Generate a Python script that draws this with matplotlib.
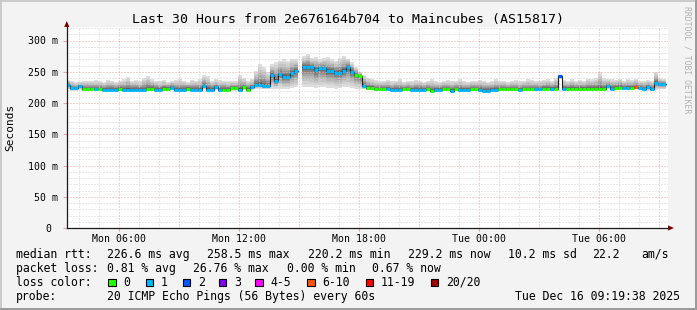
import numpy as np
import matplotlib
matplotlib.use('Agg')
import matplotlib.pyplot as plt
from matplotlib.patches import Rectangle, Polygon

# ---- data -------------------------------------------------------------
title = "Last 30 Hours from 2e676164b704 to Maincubes (AS15817)"
t_start = 3.33          # hours after Mon 00:00
step_h = 0.2            # 12 minutes per column

tick_hours = [6, 12, 18, 24, 30]
tick_labels = ["Mon 06:00", "Mon 12:00", "Mon 18:00", "Tue 00:00", "Tue 06:00"]
ytick_vals = [0, 50, 100, 150, 200, 250, 300]
ytick_labels = ["0 ", "50 m", "100 m", "150 m", "200 m", "250 m", "300 m"]

nan = float('nan')
median = [
    228.8, 223.4, 223.4, 226.6, 222.0, 222.0, 222.0, 222.0, 222.0, 221.5,
    221.5, 221.5, 221.5, 223.0, 221.5, 221.5, 221.5, 221.5, 221.5, 221.5,
    223.0, 223.0, 221.5, 221.5, 223.0, 223.0, 224.5, 221.5, 221.5, 221.5,
    223.0, 221.5, 221.5, 221.5, 226.6, 221.5, 221.5, 225.0, 221.5, 221.5,
    221.5, 223.5, 223.5, 221.5, 225.0, 221.5, 225.0, 228.8, 228.8, 227.7,
    226.6, 244.8, 235.0, 246.4, 241.6, 241.6, 247.5, 251.7, nan, 257.6,
    257.6, 257.6, 252.3, 255.5, 255.5, 251.7, 251.7, 248.5, 248.5, 251.7,
    257.6, 250.0, 244.8, 243.2, 227.7, 224.5, 224.5, 222.0, 222.0, 222.0,
    222.5, 221.3, 221.3, 221.3, 222.0, 222.0, 221.3, 221.3, 221.3, 221.3,
    222.0, 219.2, 221.3, 221.3, 222.0, 222.0, 220.0, 222.0, 221.3, 221.3,
    221.3, 222.0, 222.0, 221.3, 220.0, 220.0, 221.3, 221.3, 222.0, 222.0,
    222.0, 222.0, 222.0, 221.3, 222.0, 222.0, 222.0, 221.8, 221.8, 223.0,
    223.0, 223.0, 223.0, 242.7, 223.0, 223.0, 223.0, 223.0, 223.0, 223.0,
    223.0, 223.0, 223.0, 223.0, 223.0, 227.0, 223.0, 224.5, 224.5, 224.5,
    224.5, 224.5, 226.0, 224.5, 222.0, 225.0, 222.0, 231.5, 230.0, 230.0,
]
lost = [
    1, 1, 1, 1, 0, 0, 0, 1, 0, 1,
    1, 1, 1, 0, 1, 1, 1, 1, 1, 1,
    0, 0, 1, 1, 0, 0, 1, 1, 1, 1,
    0, 1, 1, 1, 1, 1, 1, 1, 1, 0,
    0, 0, 0, 1, 0, 0, 1, 1, 1, 1,
    1, 1, 1, 1, 1, 1, 1, 1, 0, 1,
    1, 1, 1, 1, 1, 1, 1, 1, 1, 1,
    1, 1, 0, 0, 1, 0, 0, 0, 0, 0,
    1, 1, 1, 1, 0, 0, 1, 1, 1, 1,
    0, 0, 1, 1, 0, 0, 1, 0, 1, 1,
    1, 0, 0, 1, 1, 1, 1, 1, 0, 0,
    0, 0, 0, 1, 0, 0, 0, 1, 1, 0,
    0, 1, 0, 2, 1, 0, 0, 0, 0, 0,
    0, 0, 0, 0, 0, 1, 1, 0, 0, 1,
    1, 0, 7, 1, 1, 1, 1, 1, 1, 1,
]
smoke_hi = [
    237, 235, 233, 234, 236, 235, 236, 237, 235, 234,
    237, 236, 233, 236, 238, 241, 236, 237, 235, 240,
    243, 238, 236, 235, 237, 234, 236, 237, 238, 236,
    234, 237, 236, 238, 245, 243, 236, 238, 237, 236,
    235, 236, 235, 245, 240, 236, 238, 252, 262, 258,
    250, 262, 265, 268, 270, 267, 270, 270, nan, 275,
    278, 272, 274, 270, 272, 273, 270, 268, 272, 275,
    270, 265, 258, 250, 245, 240, 238, 237, 236, 236,
    237, 235, 236, 238, 234, 236, 235, 237, 236, 234,
    236, 238, 235, 234, 236, 237, 235, 236, 238, 235,
    234, 236, 235, 237, 236, 234, 235, 238, 236, 235,
    234, 236, 237, 235, 236, 238, 237, 236, 235, 237,
    238, 236, 240, 246, 237, 236, 238, 235, 237, 236,
    239, 238, 240, 249, 240, 238, 238, 237, 239, 236,
    238, 237, 238, 236, 235, 237, 236, 250, 240, 238,
]
smoke_lo = [
    222, 220, 220, 221, 219.5, 219.5, 219.5, 219.5, 219.5, 219,
    219, 219, 219, 220, 219, 219, 219, 219, 219, 219,
    220, 220, 219, 219, 220, 220, 221, 219, 219, 219,
    220, 219, 219, 219, 222, 219, 219, 221, 219, 219,
    219, 220, 220, 219, 221, 219, 221, 223, 223, 222,
    222, 222, 223, 223, 222, 222, 224, 225, nan, 226,
    226, 225, 224, 225, 226, 224, 224, 223, 224, 226,
    225, 224, 223, 222, 222, 221, 221, 219.5, 219.5, 219.5,
    220, 219, 219, 219, 219.5, 219.5, 219, 219, 219, 219,
    219.5, 217, 219, 219, 219.5, 219.5, 218, 219.5, 219, 219,
    219, 219.5, 219.5, 219, 218, 218, 219, 219, 219.5, 219.5,
    219.5, 219.5, 219.5, 219, 219.5, 219.5, 219.5, 219.5, 219.5, 220.5,
    220.5, 220.5, 220.5, 238, 220.5, 220.5, 220.5, 220.5, 220.5, 220.5,
    220.5, 220.5, 220.5, 220.5, 220.5, 222, 220.5, 221.5, 221.5, 221.5,
    221.5, 221.5, 222, 221.5, 219.5, 220, 219.5, 221, 222, 222,
]

loss_names = ["0", "1", "2", "3", "4-5", "6-10", "11-19", "20/20"]
loss_colors = ["#26ff00", "#00b8ff", "#0059ff", "#7e00ff", "#ff00ff",
               "#ff5500", "#ff0000", "#a10000"]
loss_upper = [0, 1, 2, 3, 5, 10, 19, 20]

rtt_stats = ["226.6 ms avg", "258.5 ms max", "220.2 ms min", "229.2 ms now",
             "10.2 ms sd", "22.2", "am/s"]
loss_stats = ["0.81 % avg", "26.76 % max", "0.00 % min", "0.67 % now"]
probe_text = "20 ICMP Echo Pings (56 Bytes) every 60s"
stamp = "Tue Dec 16 09:19:38 2025"

# ---- figure ----------------------------------------------------------
W, H = 697, 310
mono = "DejaVu Sans Mono"


def fx(x):
    return x / W


def fy(y):
    return 1 - y / H


fig = plt.figure(figsize=(W / 100, H / 100), dpi=100, facecolor="#f3f3f3")

# shaded border
fig.add_artist(Rectangle((0, fy(2)), 1, 2 / H, color="#cbcbcb", lw=0))
fig.add_artist(Rectangle((0, 0), 2 / W, 1, color="#cbcbcb", lw=0))
fig.add_artist(Rectangle((0, 0), 1, 2 / H, color="#9b9b9b", lw=0))
fig.add_artist(Rectangle((fx(W - 2), 0), 2 / W, 1, color="#9b9b9b", lw=0))

ax_l, ax_r, ax_t, ax_b = 66.7, 668.0, 27.0, 228.0
ax = fig.add_axes([fx(ax_l), fy(ax_b), (ax_r - ax_l) / W, (ax_b - ax_t) / H])
ax.set_facecolor("white")
ax.set_xlim(3.365, 3.365 + (ax_r - ax_l) / 20.0)
ax.set_ylim(0, (ax_b - ax_t) / 0.625)

med = np.array(median, dtype=float)
hi = np.array(smoke_hi, dtype=float)
lo = np.array(smoke_lo, dtype=float)
n = len(med)
left = t_start + step_h * np.arange(n)
right = left + step_h

# contiguous runs of valid columns
valid = ~np.isnan(med)
runs = []
i = 0
while i < n:
    if valid[i]:
        j = i
        while j + 1 < n and valid[j + 1]:
            j += 1
        runs.append((i, j))
        i = j + 1
    else:
        i += 1


def stepped(idx, vals):
    xs = np.column_stack([left[idx], right[idx]]).ravel()
    ys = np.repeat(vals[idx], 2)
    return xs, ys


# smoke: bands from outer (light) to inner (dark)
greys = ["#dedede", "#d2d2d2", "#c4c4c4", "#b6b6b6", "#a6a6a6",
         "#959595", "#838383", "#707070", "#5d5d5d", "#4a4a4a"]
for k, g in enumerate(greys):
    f = (1 - k / len(greys)) ** 1.5
    top = med + (hi - med) * f
    bot = med - (med - lo) * f
    for a, b in runs:
        idx = np.arange(a, b + 1)
        xs, yt = stepped(idx, top)
        _, yb = stepped(idx, bot)
        ax.fill_between(xs, yb, yt, color=g, lw=0, zorder=1)

# grid on top of the smoke
grid_minor = "#d4d4d4"
grid_major = "#e9a9a9"
for h in range(4, 34):
    major = h % 3 == 0
    ax.axvline(h, color=grid_major if major else grid_minor, lw=0.72,
               ls=(0, (1, 2)), zorder=2)
for v in range(10, 330, 10):
    major = v % 50 == 0
    ax.axhline(v, color=grid_major if major else grid_minor, lw=0.72,
               ls=(0, (1, 2)), zorder=2)

# median line: thin black step + loss coloured segments
for a, b in runs:
    idx = np.arange(a, b + 1)
    xs, ys = stepped(idx, med)
    ax.plot(xs, ys, color="#202020", lw=0.8, zorder=3)


def loss_color(l):
    for up, c in zip(loss_upper, loss_colors):
        if l <= up:
            return c
    return loss_colors[-1]


seg_c = [loss_color(l) for l in lost]
ax.hlines(med[valid], left[valid], right[valid],
          colors=[c for c, ok in zip(seg_c, valid) if ok], lw=2.1,
          zorder=4, capstyle="butt")

# axes styling
for s in ["top", "right"]:
    ax.spines[s].set_visible(False)
for s in ["left", "bottom"]:
    ax.spines[s].set_color("#1a1a1a")
    ax.spines[s].set_linewidth(0.9)
    ax.spines[s].set_zorder(5)

ax.set_xticks(tick_hours)
ax.set_xticklabels(tick_labels, fontfamily=mono, fontsize=7.1)
ax.set_yticks(ytick_vals)
ax.set_yticklabels(ytick_labels, fontfamily=mono, fontsize=7.1)
ax.tick_params(axis="x", length=2, color=grid_major, pad=2.2)
ax.tick_params(axis="y", length=3, color=grid_major, pad=3.4)

# arrows
arrow_c = "#7a0000"
fig.add_artist(Polygon([(fx(64.2), fy(27)), (fx(69.4), fy(27)), (fx(66.8), fy(21))],
                       closed=True, color=arrow_c, lw=0))
fig.add_artist(Polygon([(fx(668), fy(225.4)), (fx(668), fy(230.6)), (fx(674), fy(228))],
                       closed=True, color=arrow_c, lw=0))

# texts
fig.text(fx(348), fy(19.5), title, fontfamily=mono, fontsize=9.5,
         ha="center", va="center")
fig.text(fx(10), fy(127), "Seconds", fontfamily=mono, fontsize=8,
         rotation=90, ha="center", va="center")
fig.text(fx(687.5), fy(60), "RRDTOOL / TOBI OETIKER", fontfamily=mono,
         fontsize=5.9, rotation=270, ha="center", va="center", color="#b2b2b2")

lfs = 8.3
row_y = [254.3, 268.2, 282.3, 296.2]
fig.text(fx(16), fy(row_y[0]), "median rtt:", fontfamily=mono, fontsize=lfs, va="center")
for s, x in zip(rtt_stats, [107.3, 207.3, 307.5, 407.7, 507.7, 592.3, 641.7]):
    fig.text(fx(x), fy(row_y[0]), s, fontfamily=mono, fontsize=lfs, va="center")

fig.text(fx(16), fy(row_y[1]), "packet loss:", fontfamily=mono, fontsize=lfs, va="center")
for s, x in zip(loss_stats, [107.3, 193.5, 286.7, 372.3]):
    fig.text(fx(x), fy(row_y[1]), s, fontfamily=mono, fontsize=lfs, va="center")

fig.text(fx(16), fy(row_y[2]), "loss color:", fontfamily=mono, fontsize=lfs, va="center")
box_x = [108.3, 145.7, 182.7, 219.0, 255.3, 307.3, 366.0, 430.7]
for name, c, bx in zip(loss_names, loss_colors, box_x):
    fig.add_artist(Rectangle((fx(bx), fy(286)), 7.4 / W, 7.4 / H,
                             facecolor=c, edgecolor="black", lw=0.8))
    fig.text(fx(bx + 15), fy(row_y[2]), name, fontfamily=mono, fontsize=lfs, va="center")

fig.text(fx(16), fy(row_y[3]), "probe:", fontfamily=mono, fontsize=lfs, va="center")
fig.text(fx(107.3), fy(row_y[3]), probe_text, fontfamily=mono, fontsize=lfs, va="center")
fig.text(fx(680), fy(row_y[3]), stamp, fontfamily=mono, fontsize=lfs,
         va="center", ha="right")

fig.savefig("out.png", dpi=100, facecolor=fig.get_facecolor())
